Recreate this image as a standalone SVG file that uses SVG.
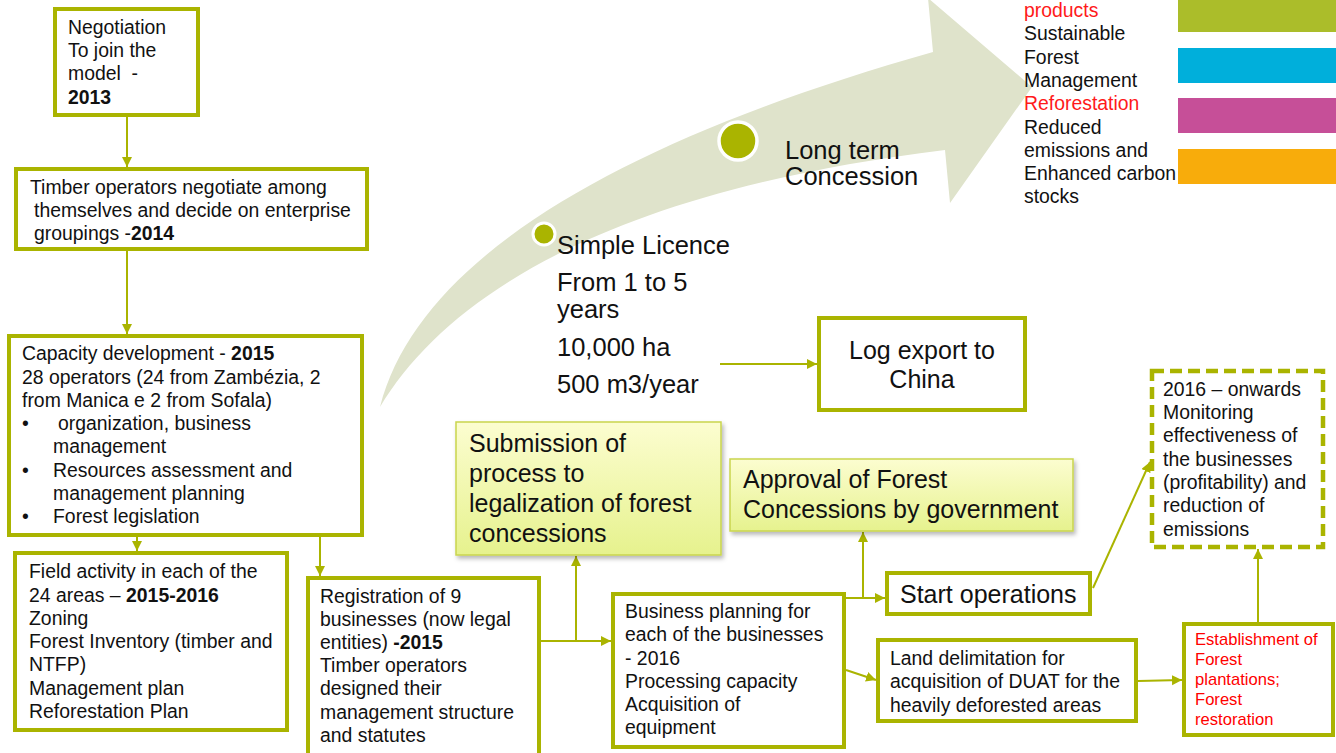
<svg xmlns="http://www.w3.org/2000/svg" width="1336" height="753" viewBox="0 0 1336 753">
  <style>
    text { font-family: "Liberation Sans", Arial, sans-serif; fill: #111; }
    .t { font-size: 19.4px; }
    .big { font-size: 25px; }
    .big2 { font-size: 25.5px; }
    .sm { font-size: 16.6px; fill: #ff0000; }
    .red { fill: #ff1a1a; }
    .b { font-weight: bold; }
    .box { fill: #ffffff; stroke: #aab400; stroke-width: 4; }
    .dash { fill: #ffffff; stroke: #aab400; stroke-width: 4.5; stroke-dasharray: 12 6; }
    .note { fill: url(#yellowFill); stroke: #c9d54e; stroke-width: 1.5; filter: url(#shadow); }
    .link { fill: none; stroke: #aab400; stroke-width: 2; marker-end: url(#head); }
  </style>
  <defs>
    <marker id="head" markerUnits="userSpaceOnUse" markerWidth="11" markerHeight="11" refX="10" refY="5" orient="auto">
      <path d="M0,0 L10,5 L0,10 z" fill="#aab400"/>
    </marker>
    <linearGradient id="yellowFill" x1="0" y1="0" x2="0" y2="1">
      <stop offset="0" stop-color="#fcfdd0"/>
      <stop offset="1" stop-color="#e6f28e"/>
    </linearGradient>
    <filter id="shadow" x="-5%" y="-5%" width="115%" height="120%">
      <feDropShadow dx="2" dy="3" stdDeviation="2" flood-color="#000" flood-opacity="0.28"/>
    </filter>
  </defs>

  <rect width="1336" height="753" fill="#ffffff"/>

  <!-- Growth arrow from simple licence to long-term concession -->
  <g id="growth-arrow">
    <path d="M380,407 C420,250 640,135 933,52 L928,-2 L1032,87 L950,203 L945,150 C620,190 450,290 380,407 Z" fill="#dfe3cb"/>
    <circle cx="544" cy="234" r="11" fill="#aab400" stroke="#ffffff" stroke-width="3"/>
    <circle cx="738" cy="141" r="19" fill="#aab400" stroke="#ffffff" stroke-width="3.5"/>
    <text class="big2" x="557" y="254">Simple Licence</text>
    <text class="big2" x="557" y="291">From 1 to 5</text>
    <text class="big2" x="557" y="318">years</text>
    <text class="big2" x="557" y="356">10,000 ha</text>
    <text class="big2" x="557" y="393">500 m3/year</text>
    <text class="big2" x="785" y="159">Long term</text>
    <text class="big2" x="785" y="185">Concession</text>
  </g>

  <!-- Legend: outcomes and colour bars -->
  <g id="legend">
    <text class="t red" x="1024" y="17">products</text>
    <text class="t" x="1024" y="40">Sustainable</text>
    <text class="t" x="1024" y="64">Forest</text>
    <text class="t" x="1024" y="87">Management</text>
    <text class="t red" x="1024" y="110">Reforestation</text>
    <text class="t" x="1024" y="134">Reduced</text>
    <text class="t" x="1024" y="157">emissions and</text>
    <text class="t" x="1024" y="180">Enhanced carbon</text>
    <text class="t" x="1024" y="203">stocks</text>
    <rect x="1178" y="-2" width="160" height="34" fill="#abbd2a"/>
    <rect x="1178" y="48" width="160" height="35" fill="#00afdb"/>
    <rect x="1178" y="98" width="160" height="35" fill="#c64f98"/>
    <rect x="1178" y="149" width="160" height="35" fill="#f8ac0b"/>
  </g>

  <!-- Connectors -->
  <g id="connectors">
    <line class="link" x1="127" y1="117" x2="127" y2="167"/>
    <line class="link" x1="127" y1="251" x2="127" y2="334"/>
    <line class="link" x1="137" y1="509" x2="137" y2="551"/>
    <line class="link" x1="320" y1="510" x2="320" y2="576"/>
    <line class="link" x1="541" y1="641" x2="611" y2="641"/>
    <line class="link" x1="576" y1="641" x2="576" y2="556"/>
    <line class="link" x1="846" y1="598" x2="885" y2="598"/>
    <line class="link" x1="863" y1="598" x2="863" y2="532"/>
    <line class="link" x1="846" y1="670" x2="876" y2="680"/>
    <line class="link" x1="1138" y1="681" x2="1182" y2="680"/>
    <line class="link" x1="1093" y1="588" x2="1150" y2="462"/>
    <line class="link" x1="1258" y1="622" x2="1258" y2="549"/>
    <line class="link" x1="720" y1="364" x2="817" y2="364"/>
  </g>

  <g id="negotiation">
    <rect class="box" x="55" y="9" width="143" height="106"/>
    <text class="t" x="68" y="34">Negotiation</text>
    <text class="t" x="68" y="57">To join the</text>
    <text class="t" x="68" y="80">model&#160; -</text>
    <text class="t b" x="68" y="104">2013</text>
  </g>

  <g id="groupings">
    <rect class="box" x="16" y="169" width="351" height="80"/>
    <text class="t" x="30" y="194">Timber operators negotiate among</text>
    <text class="t" x="34" y="217">themselves and decide on enterprise</text>
    <text class="t" x="34" y="240">groupings -<tspan class="b">2014</tspan></text>
  </g>

  <g id="capacity">
    <rect class="box" x="9" y="336" width="353" height="199"/>
    <text class="t" x="22" y="360">Capacity development - <tspan class="b">2015</tspan></text>
    <text class="t" x="22" y="384">28 operators (24 from Zambézia, 2</text>
    <text class="t" x="22" y="407">from Manica e 2 from Sofala)</text>
    <text class="t" x="22" y="430">•</text>
    <text class="t" x="58" y="430">organization, business</text>
    <text class="t" x="53" y="453">management</text>
    <text class="t" x="22" y="477">•</text>
    <text class="t" x="53" y="477">Resources assessment and</text>
    <text class="t" x="53" y="500">management planning</text>
    <text class="t" x="22" y="523">•</text>
    <text class="t" x="53" y="523">Forest legislation</text>
  </g>

  <g id="field-activity">
    <rect class="box" x="15" y="553" width="272" height="177"/>
    <text class="t" x="29" y="578">Field activity in each of the</text>
    <text class="t" x="29" y="602">24 areas – <tspan class="b">2015-2016</tspan></text>
    <text class="t" x="29" y="625">Zoning</text>
    <text class="t" x="29" y="648">Forest Inventory (timber and</text>
    <text class="t" x="29" y="671">NTFP)</text>
    <text class="t" x="29" y="695">Management plan</text>
    <text class="t" x="29" y="718">Reforestation Plan</text>
  </g>

  <g id="registration">
    <rect class="box" x="308" y="578" width="231" height="190"/>
    <text class="t" x="320" y="603">Registration of 9</text>
    <text class="t" x="320" y="626">businesses (now legal</text>
    <text class="t" x="320" y="649">entities) <tspan class="b">-2015</tspan></text>
    <text class="t" x="320" y="672">Timber operators</text>
    <text class="t" x="320" y="695">designed their</text>
    <text class="t" x="320" y="719">management structure</text>
    <text class="t" x="320" y="742">and statutes</text>
  </g>

  <g id="submission">
    <rect class="note" x="456" y="422" width="265" height="133"/>
    <text class="big" x="469" y="452">Submission of</text>
    <text class="big" x="469" y="482">process to</text>
    <text class="big" x="469" y="512">legalization of forest</text>
    <text class="big" x="469" y="542">concessions</text>
  </g>

  <g id="approval">
    <rect class="note" x="730" y="459" width="343" height="72"/>
    <text class="big" x="743" y="488">Approval of Forest</text>
    <text class="big" x="743" y="518">Concessions by government</text>
  </g>

  <g id="log-export">
    <rect class="box" x="819" y="318" width="206" height="92"/>
    <text class="big" x="922" y="359" text-anchor="middle">Log export to</text>
    <text class="big" x="922" y="388" text-anchor="middle">China</text>
  </g>

  <g id="business-planning">
    <rect class="box" x="613" y="594" width="231" height="153"/>
    <text class="t" x="625" y="618">Business planning for</text>
    <text class="t" x="625" y="641">each of the businesses</text>
    <text class="t" x="625" y="665">- 2016</text>
    <text class="t" x="625" y="688">Processing capacity</text>
    <text class="t" x="625" y="711">Acquisition of</text>
    <text class="t" x="625" y="734">equipment</text>
  </g>

  <g id="start-operations">
    <rect class="box" x="887" y="573" width="203" height="41"/>
    <text class="big" x="900" y="603">Start operations</text>
  </g>

  <g id="land-delimitation">
    <rect class="box" x="878" y="640" width="258" height="81"/>
    <text class="t" x="890" y="665">Land delimitation for</text>
    <text class="t" x="890" y="688">acquisition of DUAT for the</text>
    <text class="t" x="890" y="712">heavily deforested areas</text>
  </g>

  <g id="plantations">
    <rect class="box" x="1184" y="624" width="149" height="111"/>
    <text class="sm" x="1195" y="645">Establishment of</text>
    <text class="sm" x="1195" y="665">Forest</text>
    <text class="sm" x="1195" y="685">plantations;</text>
    <text class="sm" x="1195" y="705">Forest</text>
    <text class="sm" x="1195" y="725">restoration</text>
  </g>

  <g id="monitoring">
    <rect class="dash" x="1152" y="371" width="171" height="176"/>
    <text class="t" x="1163" y="396">2016 – onwards</text>
    <text class="t" x="1163" y="419">Monitoring</text>
    <text class="t" x="1163" y="442">effectiveness of</text>
    <text class="t" x="1163" y="466">the businesses</text>
    <text class="t" x="1163" y="489">(profitability) and</text>
    <text class="t" x="1163" y="512">reduction of</text>
    <text class="t" x="1163" y="536">emissions</text>
  </g>
</svg>
